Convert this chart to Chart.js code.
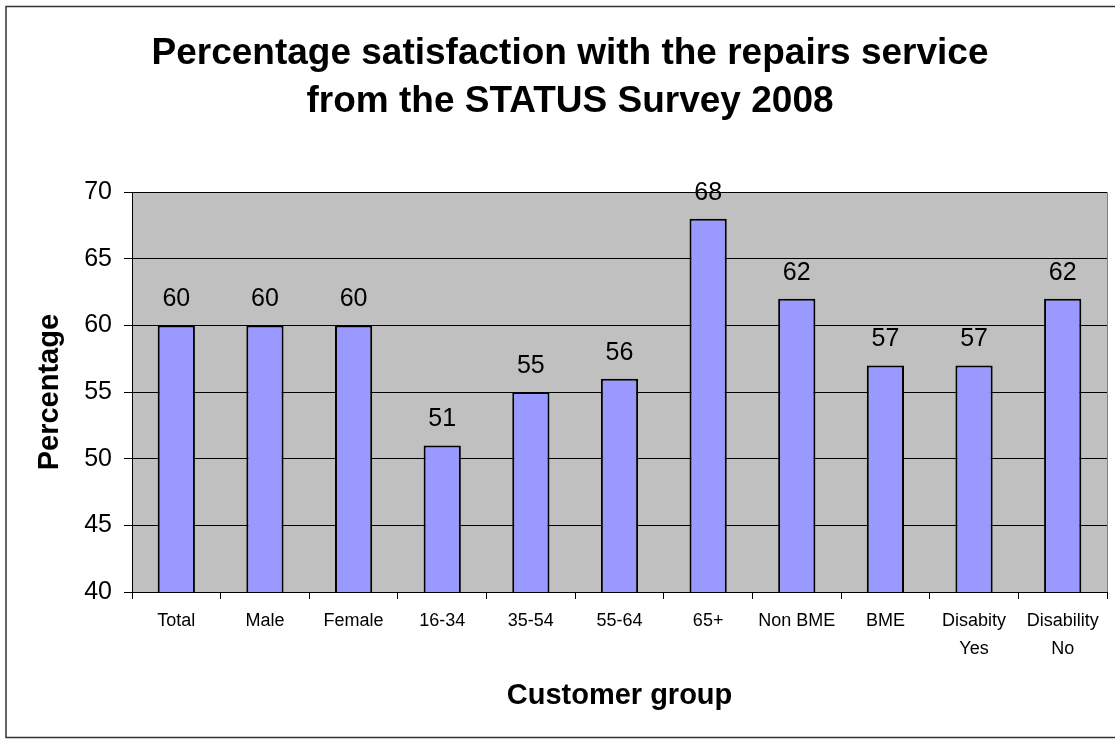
<!DOCTYPE html>
<html>
<head>
<meta charset="utf-8">
<script src="https://cdn.jsdelivr.net/npm/chart.js@4"></script>
<style>
  body { margin: 0; background: #fff; }
  #wrap { width: 1115px; height: 739px; }
</style>
</head>
<body>
<div id="wrap"><canvas id="myChart" width="1115" height="739"></canvas></div>
<script>
// data
let groups = ["Total", "Male", "Female", "16-34", "35-54", "55-64", "65+", "Non BME", "BME", ["Disabity", "Yes"], ["Disability", "No"]];
let satisfaction = [60, 60, 60, 51, 55, 56, 68, 62, 57, 57, 62];
let yTicks = [40, 45, 50, 55, 60, 65, 70];

const FONT = "Arial, 'Liberation Sans', sans-serif";

// grey plot area, frame and value labels
const decor = {
  id: "decor",
  beforeDraw(chart) {
    const c = chart.ctx, a = chart.chartArea;
    c.save();
    c.fillStyle = "#fff";
    c.fillRect(0, 0, chart.width, chart.height);
    c.fillStyle = "#c0c0c0";
    c.fillRect(a.left, a.top, a.right - a.left, a.bottom - a.top);
    // frame round the picture (right side runs off the edge)
    c.strokeStyle = "#333";
    c.lineWidth = 1.5;
    c.strokeRect(6, 6.5, chart.width + 10, 731);
    c.restore();
  },
  afterDraw(chart) {
    const c = chart.ctx, a = chart.chartArea;
    c.save();
    c.strokeStyle = "#808080";
    c.lineWidth = 1;
    c.beginPath();
    c.moveTo(a.right + 0.5, a.top);
    c.lineTo(a.right + 0.5, a.bottom);
    c.stroke();
    c.restore();
  },
  afterDatasetsDraw(chart) {
    const c = chart.ctx;
    const meta = chart.getDatasetMeta(0);
    c.save();
    c.font = "25px " + FONT;
    c.fillStyle = "#000";
    c.textAlign = "center";
    c.textBaseline = "middle";
    meta.data.forEach((bar, i) => {
      c.fillText(satisfaction[i], bar.x, bar.y - 26);
    });
    c.restore();
  }
};

var ctx = document.getElementById("myChart").getContext("2d");
var myChart = new Chart(ctx, {
  type: "bar",
  data: {
    labels: groups,
    datasets: [{
      data: satisfaction,
      backgroundColor: "#9999ff",
      borderColor: "#000",
      borderWidth: 2,
      barPercentage: 0.42,
      categoryPercentage: 1
    }]
  },
  options: {
    responsive: false,
    animation: false,
    layout: { padding: { left: 33, right: 8, top: 0, bottom: 26 } },
    plugins: {
      legend: { display: false },
      tooltip: { enabled: false },
      title: {
        display: true,
        text: ["Percentage satisfaction with the repairs service", "from the STATUS Survey 2008"],
        color: "#000",
        font: { family: FONT, size: 37, weight: "bold", lineHeight: 1.3 },
        padding: { top: 30, bottom: 66 }
      }
    },
    scales: {
      x: {
        grid: { drawOnChartArea: false, color: "#000", tickLength: 7, offset: true },
        border: { color: "#000", width: 1 },
        ticks: {
          color: "#000",
          padding: 8,
          maxRotation: 0,
          autoSkip: false,
          font: { family: FONT, size: 18, lineHeight: 1.55 }
        },
        title: {
          display: true,
          text: "Customer group",
          color: "#000",
          padding: 0,
          font: { family: FONT, size: 29, weight: "bold" }
        },
        afterFit(s) { s.height = 121; }
      },
      y: {
        min: yTicks[0],
        max: yTicks[yTicks.length - 1],
        afterBuildTicks(s) { s.ticks = yTicks.map(v => ({ value: v })); },
        grid: { color: "#000", tickLength: 8, lineWidth: 1 },
        border: { color: "#000", width: 1 },
        ticks: {
          color: "#000",
          padding: 12,
          font: { family: FONT, size: 25 }
        },
        title: {
          display: true,
          text: "Percentage",
          color: "#000",
          padding: 0,
          font: { family: FONT, size: 29, weight: "bold" }
        },
        afterFit(s) { s.width = 99; }
      }
    }
  },
  plugins: [decor]
});
</script>
</body>
</html>
